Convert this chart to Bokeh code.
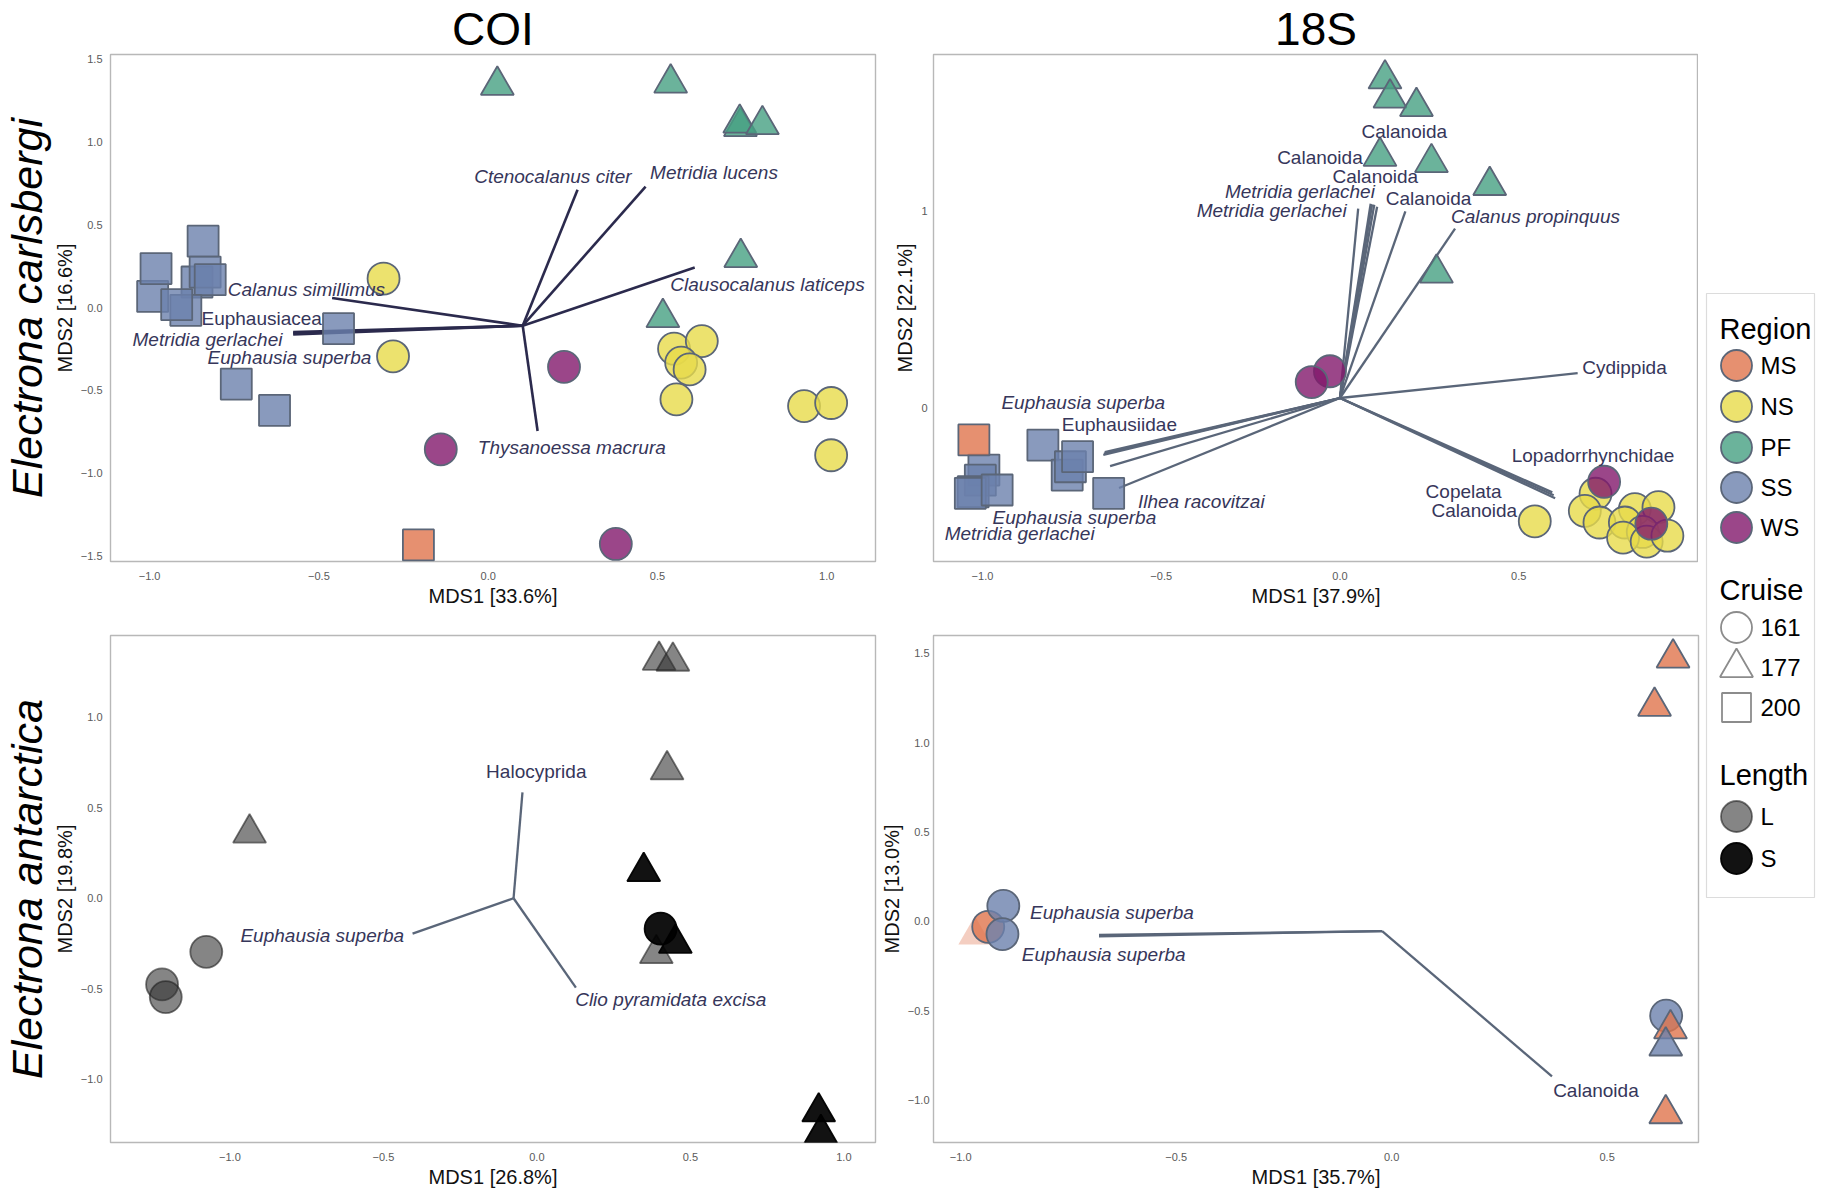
from bokeh.plotting import figure
from bokeh.models import Range1d, Title, FixedTicker, CustomJSTickFormatter, ColumnDataSource
from bokeh.layouts import row, column
from bokeh.embed import file_html
from bokeh.resources import INLINE
from bokeh.core.properties import value, field

# ------------------------------------------------------------------ data
REGIONS = ["MS", "NS", "PF", "SS", "WS"]
CRUISES = ["161", "177", "200"]
LENGTHS = ["L", "S"]

# --- COI, Electrona carlsbergi
coi_ec_x = [-0.991, -0.981, -0.842, -0.860, -0.836, -0.821, -0.893, -0.920, -0.442, -0.744, -0.631,
            -0.206,
            0.027, 0.539, 0.745, 0.743, 0.810, 0.746, 0.516,
            -0.309, -0.281, 0.549, 0.631, 0.570, 0.595, 0.556, 0.933, 1.013, 1.013,
            0.224, -0.140, 0.377]
coi_ec_y = [0.068, 0.236, 0.402, 0.155, 0.215, 0.169, -0.016, 0.018, -0.127, -0.462, -0.621,
            -1.434,
            1.344, 1.357, 1.094, 1.115, 1.106, 0.303, -0.060,
            0.176, -0.294, -0.248, -0.202, -0.332, -0.373, -0.554, -0.595, -0.576, -0.892,
            -0.358, -0.856, -1.428]
coi_ec_region = ["SS"] * 11 + ["MS"] + ["PF"] * 7 + ["NS"] * 10 + ["WS"] * 3
coi_ec_cruise = ["200"] * 12 + ["177"] * 7 + ["161"] * 13
coi_ec_origin = (0.102, -0.109)
coi_ec_vec_x = [0.264, 0.465, 0.610, -0.461, -0.576, -0.576, -0.576, 0.146]
coi_ec_vec_y = [0.712, 0.731, 0.243, 0.058, -0.148, -0.155, -0.162, -0.745]
coi_ec_labels = ["Ctenocalanus citer", "Metridia lucens", "Clausocalanus laticeps", "Calanus simillimus",
                 "Euphausiacea", "Metridia gerlachei", "Euphausia superba", "Thysanoessa macrura"]
coi_ec_lab_x = [0.191, 0.667, 0.825, -0.537, -0.669, -0.829, -0.587, 0.247]
coi_ec_lab_y = [0.795, 0.814, 0.138, 0.112, -0.064, -0.191, -0.303, -0.846]
coi_ec_italic = [True, True, True, True, False, True, True, True]

# --- 18S, Electrona carlsbergi
s18_ec_x = [-0.996, -1.006, -1.026, -1.034, -0.959, -0.831, -0.763, -0.754, -0.734, -0.647,
            -1.024,
            0.126, 0.140, 0.214, 0.112, 0.256, 0.419, 0.270,
            0.545, 0.715, 0.685, 0.726, 0.825, 0.891, 0.797, 0.847, 0.792, 0.858, 0.916,
            -0.028, -0.079, 0.739, 0.871]
s18_ec_y = [-0.317, -0.368, -0.427, -0.435, -0.418, -0.190, -0.342, -0.300, -0.249, -0.435,
            -0.164,
            1.669, 1.572, 1.529, 1.276, 1.244, 1.128, 0.683,
            -0.577, -0.437, -0.524, -0.583, -0.515, -0.505, -0.583, -0.631, -0.660, -0.680, -0.650,
            0.185, 0.130, -0.376, -0.589]
s18_ec_region = ["SS"] * 10 + ["MS"] + ["PF"] * 7 + ["NS"] * 11 + ["WS"] * 4
s18_ec_cruise = ["200"] * 11 + ["177"] * 7 + ["161"] * 15
s18_ec_origin = (0.0, 0.049)
s18_ec_vec_x = [0.665, 0.594, 0.598, 0.602,
                0.104, 0.086, 0.096, 0.090, 0.051, 0.183, 0.322,
                -0.660, -0.658, -0.618, -0.643, -0.662]
s18_ec_vec_y = [0.175, -0.430, -0.445, -0.460,
                1.020, 1.035, 1.030, 1.032, 1.010, 0.997, 0.909,
                -0.233, -0.226, -0.408, -0.297, -0.240]
s18_ec_labels = ["Cydippida", "Lopadorrhynchidae", "Copelata", "Calanoida",
                 "Calanoida", "Calanoida", "Calanoida", "Metridia gerlachei", "Metridia gerlachei",
                 "Calanoida", "Calanus propinquus",
                 "Euphausia superba", "Euphausiidae", "Ilhea racovitzai", "Euphausia superba",
                 "Metridia gerlachei"]
s18_ec_lab_x = [0.796, 0.708, 0.346, 0.376,
                0.180, -0.056, 0.099, -0.112, -0.191, 0.248, 0.547,
                -0.718, -0.617, -0.388, -0.743, -0.896]
s18_ec_lab_y = [0.205, -0.245, -0.426, -0.520,
                1.400, 1.270, 1.176, 1.098, 0.999, 1.063, 0.972,
                0.027, -0.083, -0.474, -0.559, -0.640]
s18_ec_italic = [False, False, False, False,
                 False, False, False, True, True, False, True,
                 True, False, True, True, True]

# --- COI, Electrona antarctica
coi_ea_x = [-1.077, -1.221, -1.209, -0.936, 0.398, 0.443, 0.424, 0.389, 0.403, 0.348, 0.451, 0.918, 0.925]
coi_ea_y = [-0.296, -0.476, -0.546, 0.360, 1.314, 1.309, 0.709, -0.306, -0.168, 0.147, -0.249, -1.180, -1.300]
coi_ea_length = ["L"] * 8 + ["S"] * 5
coi_ea_cruise = ["161"] * 3 + ["177"] * 5 + ["161"] + ["177"] * 4
coi_ea_origin = (-0.076, 0.0)
coi_ea_vec_x = [-0.047, -0.405, 0.127]
coi_ea_vec_y = [0.585, -0.195, -0.494]
coi_ea_labels = ["Halocyprida", "Euphausia superba", "Clio pyramidata excisa"]
coi_ea_lab_x = [-0.002, -0.699, 0.436]
coi_ea_lab_y = [0.700, -0.206, -0.559]
coi_ea_italic = [False, True, True]

# --- 18S, Electrona antarctica
s18_ea_x = [-0.967, -0.936, -0.901, -0.903, 0.637, 0.653, 0.610, 0.647, 0.636, 0.636]
s18_ea_y = [-0.077, -0.031, 0.086, -0.072, -0.528, 1.473, 1.203, -0.602, -0.698, -1.077]
s18_ea_region = ["MS", "MS", "SS", "SS", "SS", "MS", "MS", "MS", "SS", "MS"]
s18_ea_cruise = ["177", "161", "161", "161", "161", "177", "177", "177", "177", "177"]
s18_ea_faded = [True, False, False, False, False, False, False, False, False, False]
s18_ea_origin = (-0.022, -0.055)
s18_ea_vec_x = [-0.679, -0.679, 0.372]
s18_ea_vec_y = [-0.076, -0.084, -0.868]
s18_ea_labels = ["Euphausia superba", "Euphausia superba", "Calanoida"]
s18_ea_lab_x = [-0.649, -0.668, 0.474]
s18_ea_lab_y = [0.050, -0.184, -0.945]
s18_ea_italic = [True, True, False]

# ------------------------------------------------------------------ style
FONT = "Liberation Sans"
REGION_COLORS = {"MS": "#E0744C", "NS": "#E7DB4A", "PF": "#46A082", "SS": "#6B81AC", "WS": "#82186B"}
LENGTH_COLORS = {"L": "#333333", "S": "#000000"}
MARKERS = {"161": "circle", "177": "triangle", "200": "square"}
SIZES = {"161": 32, "177": 33, "200": 31}
OUTLINE = "#5b6678"
LABEL_COLOR = "#36365a"
FW, FH = 765, 507


def make_panel(xr, yr, xt, yt, xdec, ydec, xlab, ylab, top=None, side=None,
               mbl=100, mbr=2, mbt=24, mbb=50, ystd=8):
    p = figure(frame_width=FW, frame_height=FH, x_range=Range1d(*xr), y_range=Range1d(*yr),
               output_backend="svg", toolbar_location=None,
               min_border_left=mbl, min_border_right=mbr, min_border_top=mbt, min_border_bottom=mbb)
    p.grid.visible = False
    p.outline_line_color = "#b8b8b8"
    p.outline_line_width = 1.4
    p.background_fill_color = "white"
    p.border_fill_color = "white"
    for ax, ticks, dec, lab, std in ((p.xaxis[0], xt, xdec, xlab, 10), (p.yaxis[0], yt, ydec, ylab, ystd)):
        ax.ticker = FixedTicker(ticks=ticks)
        ax.formatter = CustomJSTickFormatter(
            code="return (tick < 0 ? '\\u2212' : '') + Math.abs(tick).toFixed(%d);" % dec)
        ax.axis_line_color = None
        ax.major_tick_line_color = None
        ax.minor_tick_line_color = None
        ax.major_tick_out = 0
        ax.major_tick_in = 0
        ax.major_label_standoff = std
        ax.major_label_text_font = FONT
        ax.major_label_text_font_size = "11px"
        ax.major_label_text_color = "#5a5a5a"
        ax.axis_label = lab
        ax.axis_label_text_font = FONT
        ax.axis_label_text_font_size = "20px"
        ax.axis_label_text_font_style = "normal"
        ax.axis_label_text_color = "#111111"
        ax.axis_label_standoff = 2
    if top:
        p.add_layout(Title(text=top, text_font=FONT, text_font_size="46px", text_font_style="normal",
                           text_color="#000000", align="center", standoff=0), "above")
    if side:
        p.add_layout(Title(text=side, text_font=FONT, text_font_size="43px", text_font_style="italic",
                           text_color="#000000", align="center", standoff=0), "left")
    return p


def add_vectors(p, origin, vx, vy, labels, lx, ly, italic, color, width):
    seg = ColumnDataSource(dict(x0=[origin[0]] * len(vx), y0=[origin[1]] * len(vy), x1=vx, y1=vy))
    p.segment(x0="x0", y0="y0", x1="x1", y1="y1", source=seg, line_color=color, line_width=width)
    return ColumnDataSource(dict(x=lx, y=ly, text=labels,
                                 fstyle=["italic" if i else "normal" for i in italic]))


def add_labels(p, src):
    p.text(x="x", y="y", text="text", source=src, text_font=value(FONT), text_font_size=value("19px"),
           text_font_style=field("fstyle"), text_color=LABEL_COLOR, text_align="center",
           text_baseline="middle")


def add_points(p, xs, ys, fills, cruises, fill_alpha, line_colors, line_alpha):
    src = ColumnDataSource(dict(x=xs, y=ys, fill=fills, line=line_colors,
                                marker=[MARKERS[c] for c in cruises], size=[SIZES[c] for c in cruises],
                                fa=fill_alpha, la=line_alpha))
    p.scatter(x="x", y="y", marker="marker", size="size", source=src, fill_color="fill",
              fill_alpha="fa", line_color="line", line_alpha="la", line_width=1.8)


# ---------------- panel 1: COI / E. carlsbergi
p1 = make_panel((-1.1155, 1.144), (-1.534, 1.530), [-1.0, -0.5, 0.0, 0.5, 1.0],
                [-1.5, -1.0, -0.5, 0.0, 0.5, 1.0, 1.5], 1, 1, "MDS1 [33.6%]", "MDS2 [16.6%]",
                top="COI", side="Electrona carlsbergi", mbt=46, mbb=50)
lab1 = add_vectors(p1, coi_ec_origin, coi_ec_vec_x, coi_ec_vec_y, coi_ec_labels, coi_ec_lab_x,
                   coi_ec_lab_y, coi_ec_italic, "#2b2a4d", 2.6)
add_points(p1, coi_ec_x, coi_ec_y, [REGION_COLORS[r] for r in coi_ec_region], coi_ec_cruise,
           [0.8] * len(coi_ec_x), [OUTLINE] * len(coi_ec_x), [1.0] * len(coi_ec_x))
add_labels(p1, lab1)

# ---------------- panel 2: 18S / E. carlsbergi
p2 = make_panel((-1.137, 1.003), (-0.781, 1.793), [-1.0, -0.5, 0.0, 0.5], [0.0, 1.0], 1, 0,
                "MDS1 [37.9%]", "MDS2 [22.1%]", top="18S", mbl=52, mbr=4, mbt=46, mbb=50, ystd=6)
lab2 = add_vectors(p2, s18_ec_origin, s18_ec_vec_x, s18_ec_vec_y, s18_ec_labels, s18_ec_lab_x,
                   s18_ec_lab_y, s18_ec_italic, "#5a6679", 2.3)
add_points(p2, s18_ec_x, s18_ec_y, [REGION_COLORS[r] for r in s18_ec_region], s18_ec_cruise,
           [0.8] * len(s18_ec_x), [OUTLINE] * len(s18_ec_x), [1.0] * len(s18_ec_x))
add_labels(p2, lab2)

# ---------------- panel 3: COI / E. antarctica
p3 = make_panel((-1.389, 1.103), (-1.349, 1.451), [-1.0, -0.5, 0.0, 0.5, 1.0],
                [-1.0, -0.5, 0.0, 0.5, 1.0], 1, 1, "MDS1 [26.8%]", "MDS2 [19.8%]",
                side="Electrona antarctica", mbt=24, mbb=41)
lab3 = add_vectors(p3, coi_ea_origin, coi_ea_vec_x, coi_ea_vec_y, coi_ea_labels, coi_ea_lab_x,
                   coi_ea_lab_y, coi_ea_italic, "#5a6679", 2.3)
add_points(p3, coi_ea_x, coi_ea_y, [LENGTH_COLORS[l] for l in coi_ea_length], coi_ea_cruise,
           [0.6 if l == "L" else 0.93 for l in coi_ea_length],
           ["#222222" if l == "L" else "#000000" for l in coi_ea_length],
           [0.6 if l == "L" else 0.95 for l in coi_ea_length])
add_labels(p3, lab3)

# ---------------- panel 4: 18S / E. antarctica
p4 = make_panel((-1.063, 0.712), (-1.238, 1.599), [-1.0, -0.5, 0.0, 0.5],
                [-1.0, -0.5, 0.0, 0.5, 1.0, 1.5], 1, 1, "MDS1 [35.7%]", "MDS2 [13.0%]",
                mbl=52, mbr=4, mbt=24, mbb=41, ystd=4)
lab4 = add_vectors(p4, s18_ea_origin, s18_ea_vec_x, s18_ea_vec_y, s18_ea_labels, s18_ea_lab_x,
                   s18_ea_lab_y, s18_ea_italic, "#5a6679", 2.3)
add_points(p4, s18_ea_x, s18_ea_y, [REGION_COLORS[r] for r in s18_ea_region], s18_ea_cruise,
           [0.35 if f else 0.8 for f in s18_ea_faded],
           [OUTLINE] * len(s18_ea_x), [0.0 if f else 1.0 for f in s18_ea_faded])
add_labels(p4, lab4)

# ---------------- legend (drawn in its own pixel-unit figure)
LW, LH = 114, 903
lg = figure(width=LW, height=LH, x_range=Range1d(0, LW), y_range=Range1d(LH, 0),
            output_backend="svg", toolbar_location=None, min_border=0,
            x_axis_type=None, y_axis_type=None)
lg.grid.visible = False
lg.outline_line_color = None
lg.quad(left=[4], right=[LW - 2], top=[293], bottom=[897], fill_color="white",
        line_color="#dcdcdc", line_width=1.2)

KEY_X, TXT_X, TITLE_X = 34, 58, 17
region_y = [365, 406, 447, 487, 527]
cruise_y = [627, 667, 707]
length_y = [816, 858]

lg.scatter(x=[KEY_X] * len(REGIONS), y=region_y, marker="circle", size=31,
           fill_color=[REGION_COLORS[r] for r in REGIONS], fill_alpha=0.8,
           line_color=OUTLINE, line_width=1.8)
lg.scatter(x=[KEY_X] * len(CRUISES), y=cruise_y, marker=[MARKERS[c] for c in CRUISES],
           size=[31, 33, 29], fill_color="white", line_color="#8c8c8c", line_width=1.8)
lg.scatter(x=[KEY_X] * len(LENGTHS), y=length_y, marker="circle", size=31,
           fill_color=[LENGTH_COLORS[l] for l in LENGTHS], fill_alpha=[0.6, 0.93],
           line_color=["#222222", "#000000"], line_alpha=[0.6, 0.95], line_width=1.8)

lg.text(x=[TITLE_X] * 3, y=[328, 589, 774], text=["Region", "Cruise", "Length"],
        text_font=value(FONT), text_font_size=value("29px"), text_color="#000000",
        text_align="left", text_baseline="middle")
lg.text(x=[TXT_X] * (len(REGIONS) + len(CRUISES) + len(LENGTHS)),
        y=region_y + cruise_y + length_y, text=REGIONS + CRUISES + LENGTHS,
        text_font=value(FONT), text_font_size=value("24px"), text_color="#000000",
        text_align="left", text_baseline="middle")

layout = row(column(p1, p3), column(p2, p4), lg)
open("out.html", "w").write(file_html(layout, INLINE))
